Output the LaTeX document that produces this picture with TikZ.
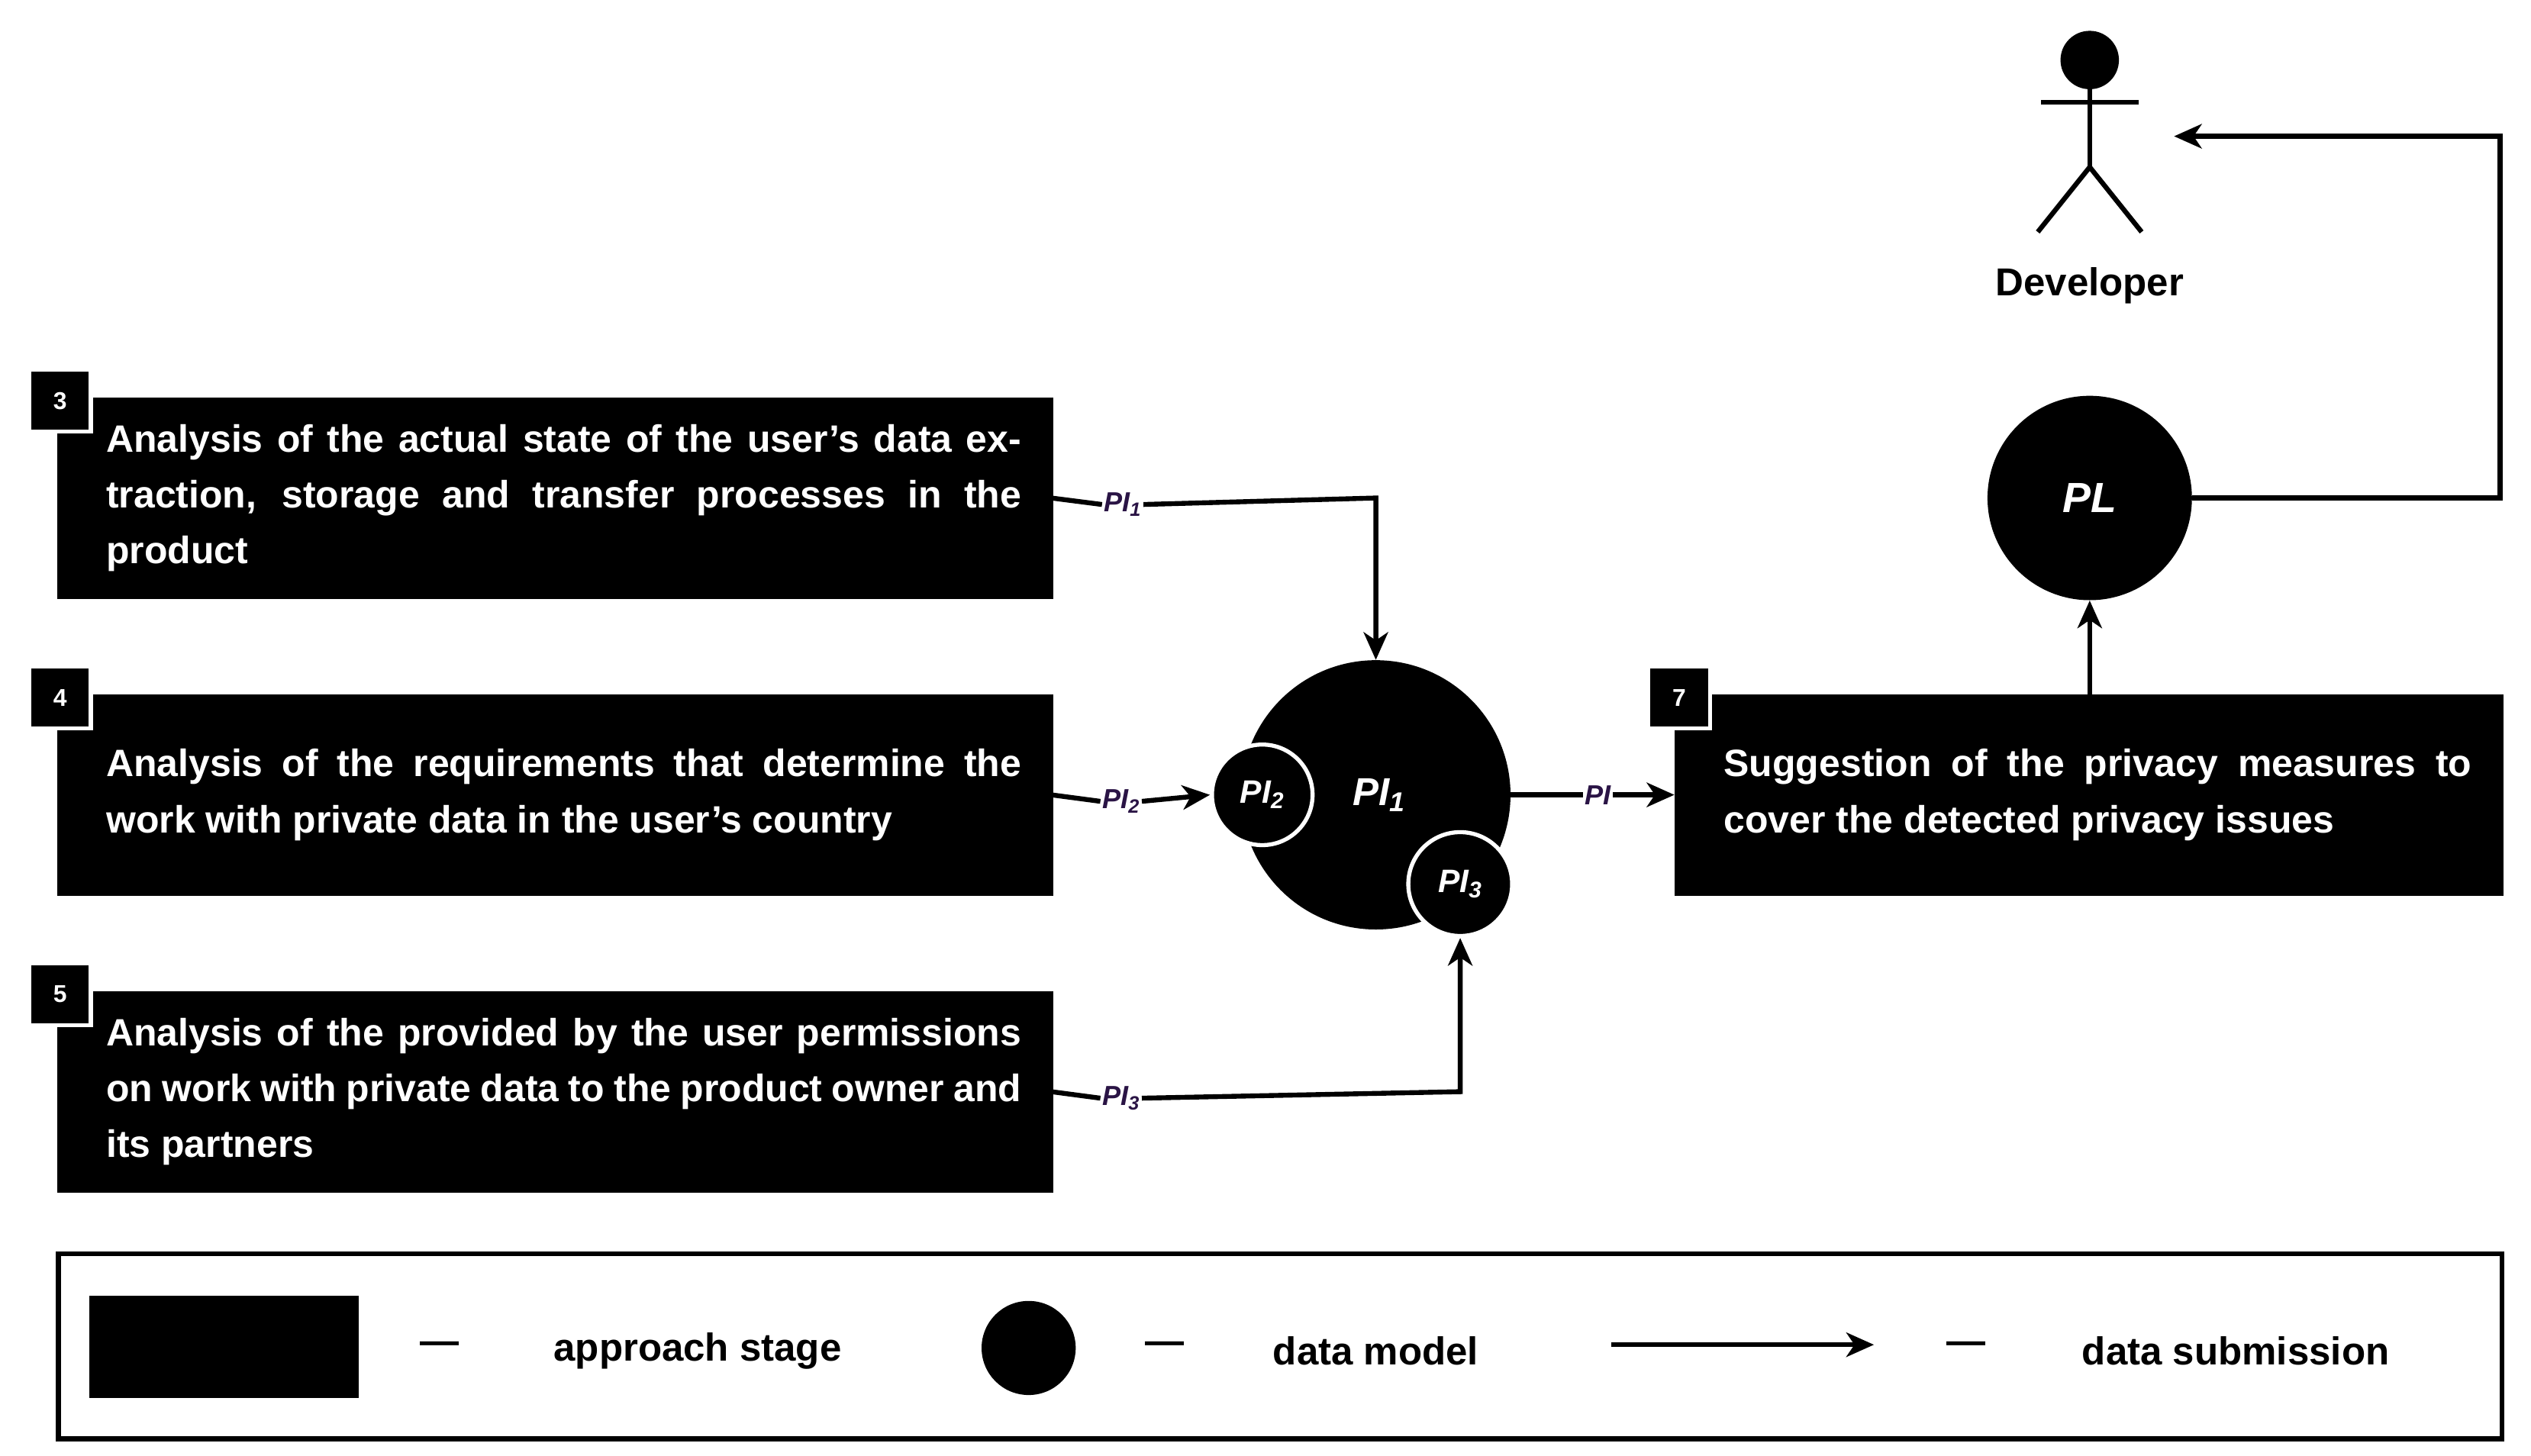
\documentclass[tikz,border=0pt]{standalone}
\usepackage{fontspec}
\setmainfont{Liberation Sans}
\usetikzlibrary{arrows.meta}
\definecolor{lab}{HTML}{2A1445}
\begin{document}
\begin{tikzpicture}[x=1pt,y=-1pt,
  stage/.style={fill=black,draw=none,minimum width=614pt,minimum height=124pt,anchor=north west},
  txt/.style={text=white,font=\bfseries\fontsize{23.5}{34.5}\selectfont,text width=564pt,align=justify,anchor=west},
  tag/.style={fill=black,draw=white,line width=2.5pt,minimum size=38pt,inner sep=0pt,text=white,font=\bfseries\fontsize{15}{15}\selectfont},
  ln/.style={line width=3pt},
  arr/.style={line width=3pt,-{Stealth[length=17pt,width=15pt,inset=5pt]}},
  lbl/.style={text=lab,font=\bfseries\itshape\fontsize{17}{17}\selectfont,inner sep=1pt},
  dm/.style={circle,fill=black,inner sep=0pt},
  wl/.style={text=white,font=\bfseries\itshape\fontsize{24}{24}\selectfont}]
\useasboundingbox (0,0) rectangle (1560,897.6);
% stages
\node[stage] (s3) at (35,245) {};
\node[txt] at (62,307) {Analysis of the actual state of the user’s data extraction, storage and transfer processes in the product};
\node[tag] (t3) at (37,247) {3};
\node[stage] (s4) at (35,428) {};
\node[txt] at (62,490) {Analysis of the requirements that determine the work with private data in the user's country};
\node[tag] (t4) at (37,430) {4};
\node[stage] (s5) at (35,611) {};
\node[txt] at (62,673) {Analysis of the provided by the user permissions on work with private data to the product owner and its partners};
\node[tag] (t5) at (37,613) {5};
\node[stage,minimum width=511pt] (s7) at (1032,428) {};
\node[txt,text width=461pt] at (1059,490) {Suggestion of the privacy measures to cover the detected privacy issues};
\node[tag] (t7) at (1035,430) {7};
% data models
\node[dm,minimum size=166pt] (pi) at (848,490) {};
\node[wl,xshift=2pt] at (pi) {PI\textsubscript{1}};
\node[dm,draw=white,line width=2.5pt,minimum size=62pt] (pi2) at (778,490) {};
\node[wl,font=\bfseries\itshape\fontsize{20}{20}\selectfont] at (pi2) {PI\textsubscript{2}};
\node[dm,draw=white,line width=2.5pt,minimum size=64pt] (pi3) at (900,545) {};
\node[wl,font=\bfseries\itshape\fontsize{20}{20}\selectfont] at (pi3) {PI\textsubscript{3}};
\node[dm,minimum size=126pt] (pl) at (1288,307) {};
\node[wl,font=\bfseries\itshape\fontsize{26}{26}\selectfont] at (pl) {PL};
% labels
\node[lbl] (l1) at (692,311) {PI\textsubscript{1}};
\node[lbl] (l2) at (691,494) {PI\textsubscript{2}};
\node[lbl] (l3) at (691,677) {PI\textsubscript{3}};
\node[lbl] (l4) at (985,490) {PI};
% connectors
\draw[ln] (648,307) -- (l1.west);
\draw[arr] (l1.east) -- (848,307) -- (pi.north);
\draw[ln] (648,490) -- (l2.west);
\draw[arr] (l2.east) -- (pi2.west);
\draw[ln] (648,673) -- (l3.west);
\draw[arr] (l3.east) -- (900,673) -- (pi3.south);
\draw[ln] (pi.east) -- (l4.west);
\draw[arr] (l4.east) -- (s7.west |- l4.east);
\draw[arr] (1288,428) -- (pl.south);
\draw[arr] (pl.east) -- (1541,307) -- (1541,84) -- (1340,84);
% developer
\node[circle,fill=black,minimum size=36pt,inner sep=0pt] (head) at (1288,37) {};
\draw[ln] (head.south) -- (1288,103) coordinate (hip);
\draw[ln] (1258,63) -- (1318,63);
\draw[ln] (1256,143) -- (hip) -- (1320,143);
\node[font=\bfseries\fontsize{24}{24}\selectfont] (dev) at (1288,176) {Developer};
% legend
\draw[line width=3pt] (36,773) rectangle (1542,887);
\fill (55,799) rectangle (221,862);
\tikzset{lg/.style={font=\bfseries\fontsize{24}{24}\selectfont}}
\node[lg] at (271,831) {—};
\node[lg] at (430,833) {approach stage};
\node[dm,minimum size=58pt] at (634,831) {};
\node[lg] at (718,831) {—};
\node[lg] at (848,833) {data model};
\draw[arr] (993,829) -- (1155,829);
\node[lg] at (1212,831) {—};
\node[lg] at (1378,833) {data submission};
\end{tikzpicture}
\end{document}
